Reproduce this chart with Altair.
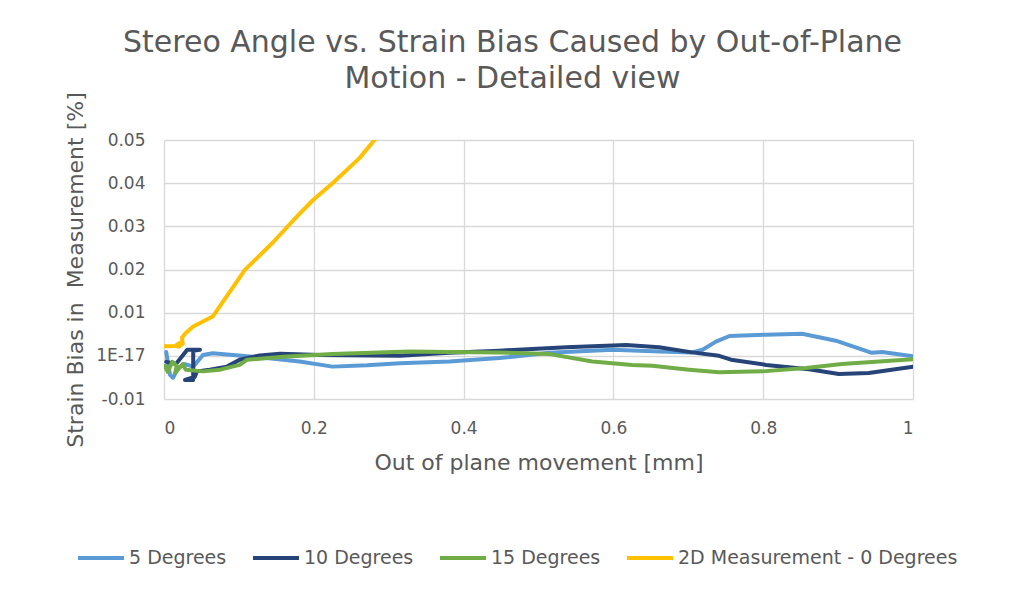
import altair as alt
import pandas as pd

series_names = ["5 Degrees", "10 Degrees", "15 Degrees", "2D Measurement - 0 Degrees"]
series_colors = ["#5B9BD5", "#264478", "#70AD47", "#FFC000"]

x5 = [0.003, 0.005, 0.008, 0.012, 0.019, 0.028, 0.039, 0.052, 0.065, 0.092, 0.137, 0.181, 0.225, 0.271,
      0.315, 0.381, 0.448, 0.515, 0.599, 0.661, 0.705, 0.719, 0.737, 0.755, 0.804, 0.852, 0.897, 0.945,
      0.959, 1.0]
y5 = [0.0009, -0.0014, -0.0044, -0.0051, -0.0028, -0.0019, -0.0025, 0.0002, 0.0006, 0.0002, -0.0005,
      -0.0013, -0.0025, -0.0022, -0.0017, -0.0013, -0.0005, 0.0007, 0.0014, 0.0010, 0.0008, 0.0014,
      0.0033, 0.0046, 0.0049, 0.0051, 0.0035, 0.0007, 0.0009, -0.0001]

x10 = [0.003, 0.016, 0.031, 0.048, 0.039, 0.039, 0.028, 0.041, 0.044, 0.061, 0.084, 0.101, 0.128, 0.155,
       0.208, 0.315, 0.381, 0.448, 0.537, 0.617, 0.661, 0.705, 0.741, 0.757, 0.804, 0.861, 0.901, 0.941,
       1.0]
y10 = [-0.0014, -0.0019, 0.0014, 0.0014, 0.0012, -0.0056, -0.0056, -0.0049, -0.0036, -0.0032, -0.0025,
       -0.0009, 0.0001, 0.0005, 0.0002, 0.0, 0.0007, 0.0012, 0.0020, 0.0025, 0.0020, 0.0008, 0.0,
       -0.0009, -0.0021, -0.0031, -0.0042, -0.0040, -0.0025]

x15 = [0.001, 0.005, 0.011, 0.017, 0.015, 0.025, 0.029, 0.052, 0.075, 0.101, 0.111, 0.159, 0.225, 0.328,
       0.381, 0.448, 0.515, 0.572, 0.625, 0.652, 0.701, 0.741, 0.799, 0.857, 0.905, 1.0]
y15 = [-0.0023, -0.0037, -0.0014, -0.0023, -0.0039, -0.0019, -0.0032, -0.0036, -0.0032, -0.0021,
       -0.0009, -0.0002, 0.0004, 0.0010, 0.0009, 0.0008, 0.0004, -0.0013, -0.0021, -0.0023, -0.0032,
       -0.0038, -0.0036, -0.0028, -0.0019, -0.0008]

x2d = [0.001, 0.015, 0.021, 0.019, 0.025, 0.024, 0.028, 0.039, 0.065, 0.108, 0.145, 0.177, 0.199, 0.225,
       0.261, 0.281, 0.32]
y2d = [0.0022, 0.0023, 0.0030, 0.0021, 0.0028, 0.0042, 0.0051, 0.0068, 0.0091, 0.0199, 0.0262, 0.0322,
       0.0361, 0.0400, 0.0458, 0.0500, 0.0600]

x_ticks = [0, 0.2, 0.4, 0.6, 0.8, 1]
y_ticks = [-0.01, 0, 0.01, 0.02, 0.03, 0.04, 0.05]

rows = []
for name, xs, ys in zip(series_names, [x5, x10, x15, x2d], [y5, y10, y15, y2d]):
    for i, (xv, yv) in enumerate(zip(xs, ys)):
        rows.append({"series": name, "x": xv, "y": yv, "order": i})
df = pd.DataFrame(rows)

FONT = "DejaVu Sans"
GREY = "#595959"

chart = (
    alt.Chart(df)
    .mark_line(strokeWidth=4, clip=True, strokeCap="round", strokeJoin="round")
    .encode(
        x=alt.X(
            "x:Q",
            scale=alt.Scale(domain=[0, 1], nice=False, zero=False),
            axis=alt.Axis(
                values=x_ticks,
                labelExpr="format(datum.value, '~g')",
                title="Out of plane movement [mm]",
                titleY=63,
                titleBaseline="middle",
                labelPadding=21,
                domain=False,
                ticks=False,
                gridColor="#D9D9D9",
                gridWidth=1.3,
            ),
        ),
        y=alt.Y(
            "y:Q",
            scale=alt.Scale(domain=[-0.01, 0.05], nice=False, zero=False),
            axis=alt.Axis(
                values=y_ticks,
                labelExpr="datum.value == 0 ? '1E-17' : (datum.value < 0 ? '-' + format(-datum.value, '.2f') : format(datum.value, '.2f'))",
                title="Strain Bias in\u00a0 Measurement [%]",
                titleX=-89,
                titleY=129.5,
                titleAngle=-90,
                titleAlign="center",
                titleBaseline="middle",
                labelPadding=19,
                domain=False,
                ticks=False,
                gridColor="#D9D9D9",
                gridWidth=1.3,
            ),
        ),
        color=alt.Color(
            "series:N",
            scale=alt.Scale(domain=series_names, range=series_colors),
            legend=alt.Legend(
                title=None,
                orient="none",
                direction="horizontal",
                legendX=-88,
                legendY=393,
                symbolType="stroke",
                symbolSize=2116,
                symbolStrokeWidth=4,
                labelOffset=3,
                columnPadding=18,
                labelFontSize=19,
                labelLimit=0,
                labelColor=GREY,
                labelFont=FONT,
            ),
        ),
        order="order:Q",
    )
    .properties(
        width=749,
        height=259,
        autosize=alt.AutoSizeParams(type="none"),
        padding={"left": 156, "top": 132, "right": 100, "bottom": 170},
        title=alt.TitleParams(
            text=["Stereo Angle vs. Strain Bias Caused by Out-of-Plane", "Motion - Detailed view"],
            anchor="middle",
            fontSize=30,
            font=FONT,
            fontWeight="normal",
            color=GREY,
            dx=-26,
            dy=38,
            offset=36,
            lineHeight=36,
        ),
    )
    .configure_view(stroke=None)
    .configure_axis(
        labelFont=FONT,
        labelFontSize=17,
        labelColor=GREY,
        titleFont=FONT,
        titleFontSize=22,
        titleColor=GREY,
        titleFontWeight="normal",
    )
)

chart.save("out.html", embed_options={"renderer": "svg", "actions": False})
